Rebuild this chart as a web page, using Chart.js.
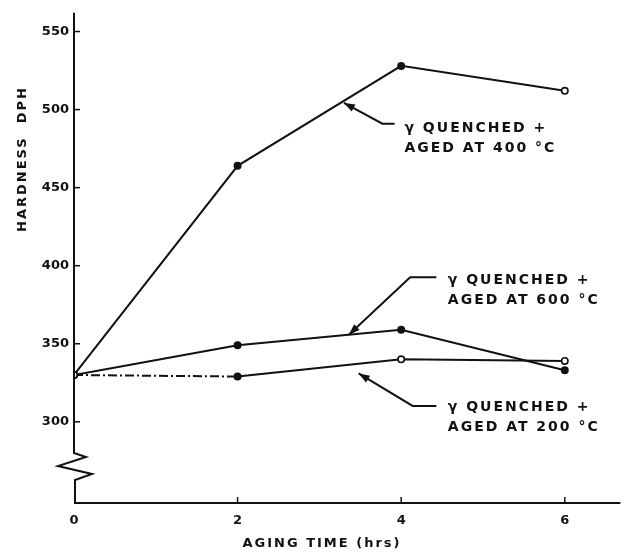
<!DOCTYPE html>
<html>
<head>
<meta charset="utf-8">
<script src="https://cdn.jsdelivr.net/npm/chart.js@4.4.1/dist/chart.umd.min.js"></script>
<style>
  html, body { margin: 0; padding: 0; background: #ffffff; }
  #wrap { width: 626px; height: 554px; }
</style>
</head>
<body>
<div id="wrap"><canvas id="chart" width="626" height="554"></canvas></div>
<script>
// Aging time (hours) and Vickers hardness (DPH) for each aging temperature
const hours = [0, 2, 4, 6];
const aged400 = [330, 464, 528, 512];
const aged600 = [330, 349, 359, 333];
const aged200 = [330, 329, 340, 339];

// Marker fill per point: true = solid dot, false = open circle
const filled400 = [false, true, true, false];
const filled600 = [false, true, true, true];
const filled200 = [false, true, false, false];

const xTicks = [0, 2, 4, 6];
const yTicks = [300, 350, 400, 450, 500, 550];

// Callout labels: arrow tip, elbow, end of the leader, text anchor (all in data units)
const callouts = [
  { lines: ['\u03B3 QUENCHED +', 'AGED AT 400 \u00B0C'], tip: [3.30, 504.3], elbow: [3.77, 491], end: [3.92, 491], text: [4.04, 488] },
  { lines: ['\u03B3 QUENCHED +', 'AGED AT 600 \u00B0C'], tip: [3.36, 355.8], elbow: [4.11, 392.6], end: [4.43, 392.6], text: [4.57, 390.7] },
  { lines: ['\u03B3 QUENCHED +', 'AGED AT 200 \u00B0C'], tip: [3.48, 331], elbow: [4.14, 310.2], end: [4.43, 310.2], text: [4.57, 309.5] }
];

const INK = '#111111';
const FONT = 'bold 13px "DejaVu Sans", sans-serif';
const CALLOUT_FONT = 'bold 14px "DejaVu Sans", sans-serif';

function series(values) {
  return hours.map((h, i) => ({ x: h, y: values[i] }));
}
function fills(flags) {
  return flags.map(f => (f ? INK : '#ffffff'));
}

function makeDataset(label, values, flags, extra) {
  return Object.assign({
    label: label,
    data: series(values),
    borderColor: INK,
    borderWidth: 2,
    pointRadius: 3.2,
    pointBorderWidth: 1.6,
    pointBorderColor: INK,
    pointBackgroundColor: fills(flags),
    tension: 0,
    fill: false
  }, extra || {});
}

// Axis lines with a scale break, inward tick marks, titles and callouts
const decorations = {
  id: 'decorations',
  afterDatasetsDraw(chart) {
    const ctx = chart.ctx;
    const xs = chart.scales.x, ys = chart.scales.y;
    const area = chart.chartArea;
    const x0 = xs.getPixelForValue(0);
    const yb = area.bottom;

    ctx.save();
    ctx.strokeStyle = INK;
    ctx.fillStyle = INK;
    ctx.lineWidth = 2;
    ctx.lineJoin = 'miter';
    ctx.lineCap = 'butt';

    // y axis with zigzag break
    const yBreak = ys.getPixelForValue(280);
    ctx.beginPath();
    ctx.moveTo(x0, area.top);
    ctx.lineTo(x0, yBreak);
    ctx.lineTo(x0 + 12, yBreak + 4);
    ctx.lineTo(x0 - 16, yBreak + 13);
    ctx.lineTo(x0 + 18, yBreak + 21);
    ctx.lineTo(x0 + 1, yBreak + 27);
    ctx.lineTo(x0 + 1, yb);
    ctx.stroke();

    // x axis
    ctx.beginPath();
    ctx.moveTo(x0, yb);
    ctx.lineTo(area.right, yb);
    ctx.stroke();

    // inward tick marks
    ctx.lineWidth = 1.5;
    yTicks.forEach(v => {
      const p = ys.getPixelForValue(v);
      ctx.beginPath();
      ctx.moveTo(x0, p);
      ctx.lineTo(x0 + 6, p);
      ctx.stroke();
    });
    xTicks.forEach(v => {
      if (v === 0) return;
      const p = xs.getPixelForValue(v);
      ctx.beginPath();
      ctx.moveTo(p, yb);
      ctx.lineTo(p, yb - 6);
      ctx.stroke();
    });

    // axis titles
    ctx.font = FONT;
    ctx.letterSpacing = '2px';
    ctx.textAlign = 'center';
    ctx.textBaseline = 'middle';
    ctx.fillText('AGING TIME (hrs)', 322, 544);
    ctx.save();
    ctx.translate(23, 159);
    ctx.rotate(-Math.PI / 2);
    ctx.fillText('HARDNESS  DPH', 0, 0);
    ctx.restore();

    // callouts
    ctx.font = CALLOUT_FONT;
    callouts.forEach(c => {
      const tx = xs.getPixelForValue(c.tip[0]), ty = ys.getPixelForValue(c.tip[1]);
      const ex = xs.getPixelForValue(c.elbow[0]), ey = ys.getPixelForValue(c.elbow[1]);
      const hx = xs.getPixelForValue(c.end[0]), hy = ys.getPixelForValue(c.end[1]);
      ctx.lineWidth = 2;
      ctx.beginPath();
      ctx.moveTo(hx, hy);
      ctx.lineTo(ex, ey);
      ctx.lineTo(tx, ty);
      ctx.stroke();
      // arrow head
      const ang = Math.atan2(ty - ey, tx - ex);
      const len = 11, half = 4;
      const bx = tx - len * Math.cos(ang), by = ty - len * Math.sin(ang);
      ctx.beginPath();
      ctx.moveTo(tx, ty);
      ctx.lineTo(bx + half * Math.sin(ang), by - half * Math.cos(ang));
      ctx.lineTo(bx - half * Math.sin(ang), by + half * Math.cos(ang));
      ctx.closePath();
      ctx.fill();
      // text
      const px = xs.getPixelForValue(c.text[0]), py = ys.getPixelForValue(c.text[1]);
      ctx.textAlign = 'left';
      ctx.textBaseline = 'middle';
      c.lines.forEach((s, i) => ctx.fillText(s, px, py + i * 20.5));
    });
    ctx.restore();
  }
};

new Chart(document.getElementById('chart'), {
  type: 'line',
  data: {
    datasets: [
      makeDataset('400 \u00B0C', aged400, filled400),
      makeDataset('600 \u00B0C', aged600, filled600),
      makeDataset('200 \u00B0C', aged200, filled200, {
        segment: { borderDash: ctx => (ctx.p0DataIndex === 0 ? [9, 3, 2, 3] : undefined) }
      })
    ]
  },
  options: {
    responsive: false,
    animation: false,
    layout: { padding: { top: 10, right: 4, left: 0, bottom: 0 } },
    plugins: { legend: { display: false }, tooltip: { enabled: false } },
    scales: {
      x: {
        type: 'linear',
        min: 0,
        max: 6.68,
        afterBuildTicks: s => { s.ticks = xTicks.map(v => ({ value: v })); },
        afterFit: s => { s.height = 51; },
        grid: { display: true, drawOnChartArea: false, drawTicks: false },
        border: { display: false },
        ticks: { color: INK, font: { family: '"DejaVu Sans", sans-serif', size: 13, weight: 'bold' }, padding: 10, maxRotation: 0 }
      },
      y: {
        type: 'linear',
        min: 248,
        max: 562,
        afterBuildTicks: s => { s.ticks = yTicks.map(v => ({ value: v })); },
        afterFit: s => { s.width = 74; },
        grid: { display: true, drawOnChartArea: false, drawTicks: false },
        border: { display: false },
        ticks: { color: INK, font: { family: '"DejaVu Sans", sans-serif', size: 13, weight: 'bold' }, padding: 5 }
      }
    }
  },
  plugins: [decorations]
});
</script>
</body>
</html>
